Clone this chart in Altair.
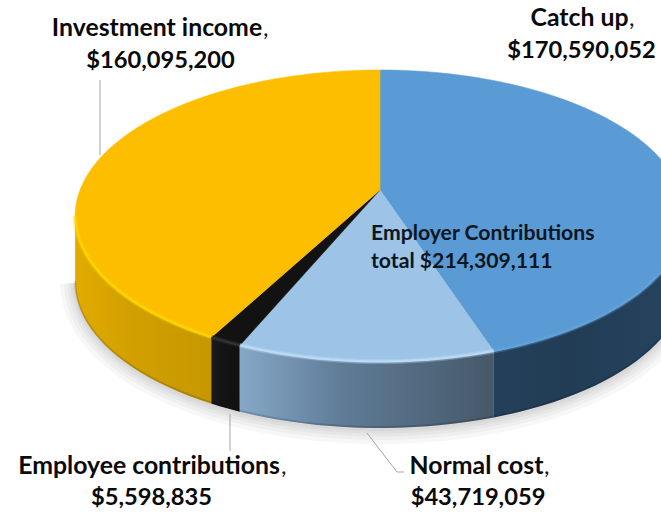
import math
import altair as alt
import pandas as pd

# Budget slices, clockwise from twelve o'clock
names = ["Catch up", "Normal cost", "Employee contributions", "Investment income"]
amounts = [170590052, 43719059, 5598835, 160095200]
top_colors = ["#5b9bd5", "#9dc3e6", "#121212", "#fdbe00"]
rim_colors = ["#64a3da", "#c4e2fc", "#3a3a3a", "#ffd900"]

wall_stops = {
    "Catch up": ["#23405a", "#223c55", "#264460"],
    "Normal cost": ["#86a8c8", "#5f7c97", "#465869"],
    "Employee contributions": ["#1a1a1a", "#141414", "#111111"],
    "Investment income": ["#e2ab00", "#d2a000", "#c69700"],
}

# Tilted-disc view of the pie
CX, CY = 380, 190
SX, SY, PERSPECTIVE = 300, 141.4, 0.178
DEPTH = 66


def project(turn):
    """Map a fraction of the full circle onto the tilted disc rim."""
    u, v = math.sin(turn * math.tau), -math.cos(turn * math.tau)
    w = 1 - PERSPECTIVE * v
    return CX + SX * u / w, CY + SY * v / w


def rim(start, end, steps=160):
    n = max(2, int((end - start) * steps) + 2)
    return [project(start + (end - start) * i / (n - 1)) for i in range(n)]


total = sum(amounts)
edges = [0]
for a in amounts:
    edges.append(edges[-1] + a / total)

# Turn positions where the disc outline is widest; walls are hidden above them
turns = [i / 2000 for i in range(2001)]
FRONT_RIGHT = max(turns, key=lambda t: project(t)[0])
FRONT_LEFT = min(turns, key=lambda t: project(t)[0])

x_scale = alt.Scale(domain=[0, 661], range=[0, 661], nice=False, zero=False)
y_scale = alt.Scale(domain=[515, 0], range=[515, 0], nice=False, zero=False)
X = lambda f="x": alt.X(f"{f}:Q", scale=x_scale, axis=None)
Y = lambda f="y": alt.Y(f"{f}:Q", scale=y_scale, axis=None)

layers = []

# Soft shadow under the pie
front = rim(FRONT_RIGHT, FRONT_LEFT)
shadow = pd.DataFrame(
    [{"x": x, "y": y + DEPTH + 1, "i": i} for i, (x, y) in enumerate(front)]
)
for width in (30, 22, 15, 9, 4):
    layers.append(
        alt.Chart(shadow)
        .mark_line(stroke="#000000", strokeWidth=width, opacity=0.03, clip=True)
        .encode(x=X(), y=Y(), order="i:Q")
    )

# Side walls, with a slightly darker lower edge
for i, name in enumerate(names):
    start, end = max(edges[i], FRONT_RIGHT), min(edges[i + 1], FRONT_LEFT)
    pts = rim(start, end)
    wall = pd.DataFrame([{"x": x, "y": y, "y2": y + DEPTH} for x, y in pts])
    c = wall_stops[name]
    grad = alt.Gradient(
        gradient="linear",
        x1=0, x2=1, y1=0, y2=0,
        stops=[
            alt.GradientStop(color=c[0], offset=0),
            alt.GradientStop(color=c[1], offset=0.4),
            alt.GradientStop(color=c[2], offset=1),
        ],
    )
    layers.append(
        alt.Chart(wall)
        .mark_area(color=grad, clip=True)
        .encode(x=X(), y=Y(), y2="y2:Q")
    )
    low = pd.DataFrame([{"x": x, "y": y + DEPTH - 1, "i": j} for j, (x, y) in enumerate(pts)])
    layers.append(
        alt.Chart(low)
        .mark_line(stroke="#000000", strokeWidth=2, opacity=0.14, clip=True)
        .encode(x=X(), y=Y(), order="i:Q")
    )

# Top faces
for i, name in enumerate(names):
    pts = [(CX, CY)] + rim(edges[i], edges[i + 1]) + [(CX, CY)]
    face = pd.DataFrame([{"x": x, "y": y, "i": j} for j, (x, y) in enumerate(pts)])
    layers.append(
        alt.Chart(face)
        .mark_line(fill=top_colors[i], stroke=top_colors[i], strokeWidth=0.5, clip=True)
        .encode(x=X(), y=Y(), order="i:Q")
    )

# Bevel highlight along the visible rim
for i, name in enumerate(names):
    start, end = max(edges[i], FRONT_RIGHT), min(edges[i + 1], FRONT_LEFT)
    pts = rim(start, end)
    edge = pd.DataFrame([{"x": x, "y": y - 0.5, "i": j} for j, (x, y) in enumerate(pts)])
    for width, alpha in ((5, 0.3), (2.5, 0.6)):
        layers.append(
            alt.Chart(edge)
            .mark_line(stroke=rim_colors[i], strokeWidth=width, opacity=alpha, clip=True)
            .encode(x=X(), y=Y(), order="i:Q")
        )

# Leader lines
leader_paths = [
    [(100, 80), (100, 155)],
    [(230, 414), (230, 451)],
    [(367, 433), (397, 472), (404, 472)],
]
for path in leader_paths:
    df = pd.DataFrame([{"x": x, "y": y, "i": j} for j, (x, y) in enumerate(path)])
    layers.append(
        alt.Chart(df)
        .mark_line(stroke="#a6a6a6", strokeWidth=1)
        .encode(x=X(), y=Y(), order="i:Q")
    )

# Labels: bold name, lighter trailing comma, amount centred on the line below
FONT = "Lato"
label_anchor = {
    # name centre x, comma x, amount centre x, name y, amount y
    "Catch up": (579.5, 629, 581.5, 19, 51),
    "Normal cost": (476.5, 544, 478, 467, 498),
    "Employee contributions": (149, 281, 151.5, 467, 498),
    "Investment income": (157, 263, 160.5, 29, 61),
}
name_rows, comma_rows, amount_rows = [], [], []
for name, amount in zip(names, amounts):
    nx, cx, ax, ny, ay = label_anchor[name]
    name_rows.append({"x": nx, "y": ny, "t": name})
    comma_rows.append({"x": cx, "y": ny, "t": ","})
    amount_rows.append({"x": ax, "y": ay, "t": f"${amount:,}"})
layers.append(
    alt.Chart(pd.DataFrame(name_rows))
    .mark_text(font=FONT, fontWeight="bold", fontSize=24.8, color="#0a0a0a", align="center", baseline="middle")
    .encode(x=X(), y=Y(), text="t:N")
)
layers.append(
    alt.Chart(pd.DataFrame(comma_rows))
    .mark_text(font=FONT, fontWeight="normal", fontSize=24, color="#111111", align="left", baseline="middle")
    .encode(x=X(), y=Y(), text="t:N")
)
layers.append(
    alt.Chart(pd.DataFrame(amount_rows))
    .mark_text(font=FONT, fontWeight="bold", fontSize=23.7, color="#0a0a0a", align="center", baseline="middle")
    .encode(x=X(), y=Y(), text="t:N")
)

employer_total = amounts[0] + amounts[1]
inner = pd.DataFrame(
    [
        {"x": 371, "y": 234, "t": "Employer Contributions"},
        {"x": 371, "y": 262, "t": f"total ${employer_total:,}"},
    ]
)
layers.append(
    alt.Chart(inner)
    .mark_text(font=FONT, fontWeight="bold", fontSize=21.2, color="#0c1620", align="left", baseline="middle")
    .encode(x=X(), y=Y(), text="t:N")
)

chart = (
    alt.layer(*layers)
    .properties(width=661, height=515, padding=0, background="#ffffff", autosize=alt.AutoSizeParams(type="none"))
    .configure_view(stroke=None)
)
chart.save("out.html", embed_options={"renderer": "svg", "actions": False})
